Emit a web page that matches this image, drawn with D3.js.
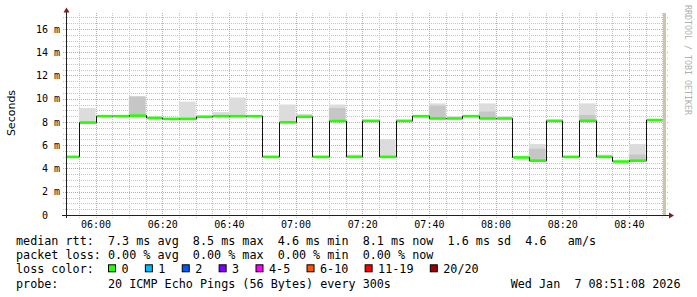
<!DOCTYPE html>
<html>
<head>
<meta charset="utf-8">
<script src="https://cdn.jsdelivr.net/npm/d3@7"></script>
<style>
  html, body { margin: 0; padding: 0; background: #fff; }
  svg { display: block; }
  text { font-family: "DejaVu Sans Mono", monospace; fill: #000; }
</style>
</head>
<body>
<svg id="chart"></svg>
<script>
const width = 697, height = 297;

// Step end times (5 min steps) and median rtt in ms
const stepEnd = ["05:55","06:00","06:05","06:10","06:15","06:20","06:25","06:30","06:35","06:40",
                 "06:45","06:50","06:55","07:00","07:05","07:10","07:15","07:20","07:25","07:30",
                 "07:35","07:40","07:45","07:50","07:55","08:00","08:05","08:10","08:15","08:20",
                 "08:25","08:30","08:35","08:40","08:45","08:50"];
const median = [5.0, 7.95, 8.5, 8.5, 8.55, 8.35, 8.27, 8.27, 8.45, 8.5,
                8.5, 8.5, 5.0, 7.97, 8.45, 5.0, 8.08, 5.0, 8.1, 5.0,
                8.1, 8.5, 8.3, 8.3, 8.5, 8.3, 8.3, 4.95, 4.67, 8.1,
                5.0, 8.1, 5.0, 4.6, 4.67, 8.17];
// smoke: top of light band and top of darker band (ms)
const smokeHi = [null, 9.2, 8.6, 8.6, 10.2, 8.45, null, 9.75, 8.55, 8.85,
                 10.1, null, null, 9.5, 8.7, null, 9.5, 5.2, null, 6.5,
                 null, null, 9.6, 8.5, null, 9.6, 8.5, null, 6.1, 8.2,
                 null, 9.6, 5.2, null, 6.1, null];
const smokeDark = [null, null, null, null, 10.2, null, null, null, null, null,
                   null, null, null, null, null, null, 9.2, null, null, null,
                   null, null, 9.4, null, null, 8.9, null, null, 5.7, null,
                   null, 8.6, null, null, 5.2, null];

const xTicks = ["06:00","06:20","06:40","07:00","07:20","07:40","08:00","08:20","08:40"];
const yTicks = [0, 2, 4, 6, 8, 10, 12, 14, 16];
const yTickLabels = ["0", "2 m", "4 m", "6 m", "8 m", "10 m", "12 m", "14 m", "16 m"];

const lossLabels = ["0", "1", "2", "3", "4-5", "6-10", "11-19", "20/20"];
const lossColors = ["#26ff00", "#00b8ff", "#0059ff", "#7e00ff", "#ff00ff", "#ff5500", "#ff0000", "#a10000"];

const legendRows = [
  "median rtt:  7.3 ms avg  8.5 ms max  4.6 ms min  8.1 ms now  1.6 ms sd  4.6   am/s",
  "packet loss: 0.00 % avg  0.00 % max  0.00 % min  0.00 % now",
  "loss color:",
  "probe:       20 ICMP Echo Pings (56 Bytes) every 300s"
];
const stampText = "Wed Jan  7 08:51:08 2026";

const t = s => {
  const p = s.split(":").map(Number);
  return new Date(Date.UTC(2026, 0, 7, p[0], p[1], p[2] || 0));
};
const step = 5 * 60 * 1000;

const svg = d3.select("#chart").attr("width", width).attr("height", height);
svg.append("rect").attr("width", width).attr("height", height).attr("fill", "#fff");

const plot = { left: 66, right: 666, top: 13, bottom: 215 };

const x = d3.scaleUtc().domain([t("05:51:08"), t("08:51:08")]).range([plot.left, plot.right]);
const y = d3.scaleLinear().domain([0, 17.376]).range([plot.bottom, plot.top]);
const cx = v => Math.round(x(v)) + 0.5;
const cy = v => Math.round(y(v)) + 0.5;

svg.append("defs").append("clipPath").attr("id", "clip")
  .append("rect").attr("x", plot.left).attr("y", plot.top)
  .attr("width", plot.right - plot.left).attr("height", plot.bottom - plot.top);

// grid
const grid = svg.append("g").attr("fill", "none").attr("stroke-dasharray", "1,1");
const minorY = d3.range(1, 35).map(i => i * 0.5).filter(v => v % 2 !== 0);
grid.selectAll(".hmin").data(minorY).enter().append("line")
  .attr("x1", plot.left - 3).attr("x2", plot.right + 2)
  .attr("y1", d => cy(d)).attr("y2", d => cy(d))
  .attr("stroke", "#c4c4c4");
const minorX = stepEnd.filter(s => !xTicks.includes(s));
grid.selectAll(".vmin").data(minorX).enter().append("line")
  .attr("x1", d => cx(t(d))).attr("x2", d => cx(t(d)))
  .attr("y1", plot.top).attr("y2", plot.bottom + 3)
  .attr("stroke", "#c4c4c4");
grid.selectAll(".hmaj").data(yTicks.slice(1)).enter().append("line")
  .attr("x1", plot.left - 3).attr("x2", plot.right + 2)
  .attr("y1", d => cy(d)).attr("y2", d => cy(d))
  .attr("stroke", "#e89a9a");
grid.selectAll(".vmaj").data(xTicks).enter().append("line")
  .attr("x1", d => cx(t(d))).attr("x2", d => cx(t(d)))
  .attr("y1", plot.top).attr("y2", plot.bottom + 3)
  .attr("stroke", "#e89a9a");

// data
const steps = stepEnd.map((s, i) => ({
  end: t(s), start: new Date(t(s) - step),
  med: median[i], hi: smokeHi[i], dark: smokeDark[i]
}));

const data = svg.append("g").attr("clip-path", "url(#clip)");

data.selectAll(".smoke").data(steps.filter(d => d.hi != null)).enter().append("rect")
  .attr("x", d => x(d.start)).attr("width", d => x(d.end) - x(d.start))
  .attr("y", d => y(d.hi)).attr("height", d => y(d.med) - y(d.hi))
  .attr("fill", "#dcdcdc");
data.selectAll(".smokeDark").data(steps.filter(d => d.dark != null)).enter().append("rect")
  .attr("x", d => x(d.start)).attr("width", d => x(d.end) - x(d.start))
  .attr("y", d => y(d.dark)).attr("height", d => y(d.med) - y(d.dark))
  .attr("fill", "#c6c6c6");

// span between last sample and now
const lastEnd = steps[steps.length - 1].end;
data.append("rect")
  .attr("x", Math.round(x(lastEnd)) + 1).attr("width", 3)
  .attr("y", plot.top).attr("height", plot.bottom - plot.top)
  .attr("fill", "#cac6a6");

const pts = [];
steps.forEach(d => { pts.push([d.start, d.med]); pts.push([d.end, d.med]); });
data.append("path")
  .attr("d", d3.line().x(d => Math.round(x(d[0])) + 0.5).y(d => y(d[1]))(pts))
  .attr("fill", "none").attr("stroke", "#111").attr("stroke-width", 1);

data.selectAll(".med").data(steps).enter().append("line")
  .attr("x1", d => Math.round(x(d.start)) + 1).attr("x2", d => Math.round(x(d.end)))
  .attr("y1", d => y(d.med)).attr("y2", d => y(d.med))
  .attr("stroke", lossColors[0]).attr("stroke-width", 2.6);

// axes lines + arrows
svg.append("line").attr("x1", plot.left - 4).attr("x2", plot.right + 3)
  .attr("y1", plot.bottom + 0.5).attr("y2", plot.bottom + 0.5).attr("stroke", "#1f1f1f");
svg.append("line").attr("x1", plot.left + 0.5).attr("x2", plot.left + 0.5)
  .attr("y1", plot.bottom + 3).attr("y2", plot.top - 1).attr("stroke", "#1f1f1f");
svg.append("path")
  .attr("d", `M${plot.left + 0.5},${plot.top - 5.5} L${plot.left + 3.5},${plot.top - 0.5} L${plot.left - 2.5},${plot.top - 0.5} Z`)
  .attr("fill", "#801f1f");
svg.append("path")
  .attr("d", `M${plot.right + 8},${plot.bottom + 0.5} L${plot.right + 3},${plot.bottom - 2.5} L${plot.right + 3},${plot.bottom + 3.5} Z`)
  .attr("fill", "#801f1f");

// tick labels
const xAxis = svg.append("g").attr("transform", `translate(0,${plot.bottom})`)
  .call(d3.axisBottom(x).tickValues(xTicks.map(t)).tickSize(0).tickPadding(5.4)
    .tickFormat(d3.utcFormat("%H:%M")));
const yAxis = svg.append("g").attr("transform", `translate(${plot.left},0)`)
  .call(d3.axisLeft(y).tickValues(yTicks).tickSize(0).tickPadding(6)
    .tickFormat((d, i) => yTickLabels[i]));
[xAxis, yAxis].forEach(a => {
  a.select(".domain").remove();
  a.selectAll("text").attr("font-family", "DejaVu Sans Mono").attr("font-size", 10).attr("fill", "#000");
});
yAxis.selectAll(".tick text").filter(d => d === 0).attr("dx", -12);

svg.append("text")
  .attr("transform", "translate(15,113) rotate(-90)")
  .attr("text-anchor", "middle")
  .style("font-family", "DejaVu Sans")
  .attr("font-size", 11)
  .text("Seconds");

svg.append("text")
  .attr("transform", "translate(685,5) rotate(90)")
  .attr("font-size", 8.3)
  .style("fill", "#b0b0b0")
  .text("RRDTOOL / TOBI OETIKER");

// legend
const fs = 11.75, lineY = [244.5, 259, 273.3, 287.5];
legendRows.forEach((r, i) => {
  svg.append("text").attr("x", 16).attr("y", lineY[i])
    .attr("font-size", fs).style("white-space", "pre").text(r);
});
const cw = fs * 0.6021;
let bx = 108;
lossLabels.forEach((l, i) => {
  svg.append("rect").attr("x", bx + 0.5).attr("y", lineY[2] - 8.5)
    .attr("width", 7).attr("height", 7)
    .attr("fill", lossColors[i]).attr("stroke", "#000").attr("stroke-width", 1);
  svg.append("text").attr("x", bx + 13.5).attr("y", lineY[2])
    .attr("font-size", fs).text(l);
  bx = bx + 13.5 + l.length * cw + 16.3;
});
svg.append("text").attr("x", 680.5).attr("y", lineY[3]).attr("text-anchor", "end")
  .attr("font-size", fs).style("white-space", "pre").text(stampText);
</script>
</body>
</html>
